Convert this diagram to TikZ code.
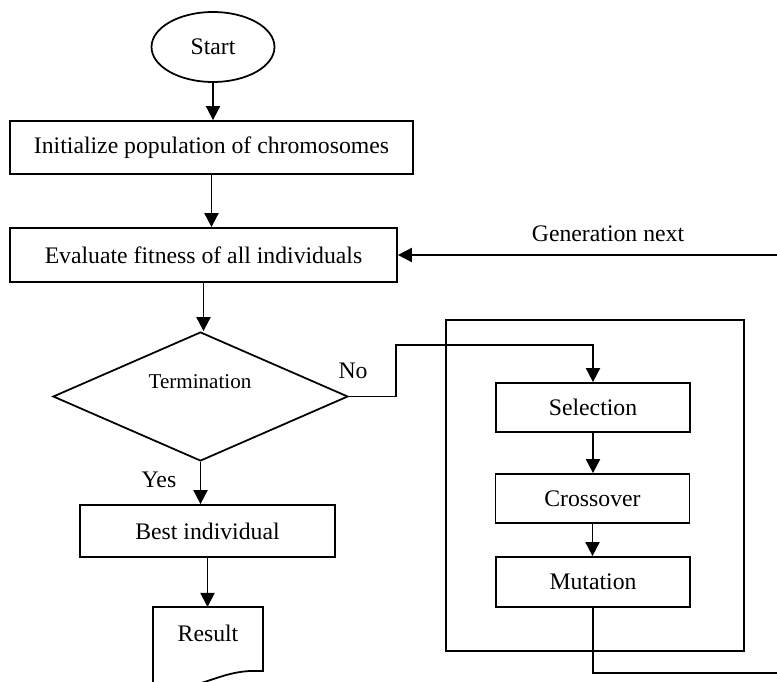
\documentclass[tikz,border=0pt]{standalone}
\usepackage{fontspec}
\setmainfont{Liberation Serif}
\usetikzlibrary{shapes.geometric, arrows.meta}

\begin{document}
\begin{tikzpicture}[x=.02cm, y=-.02cm, line width=1pt,
    lbl/.style={font=\fontsize{13.5}{16}\selectfont},
    box/.style={draw, rectangle, inner sep=0pt, lbl},
    arr/.style={-{Triangle[length=8pt, width=8pt]}}]
  \clip (0, 0) rectangle (777, 682);
  % node
  \node[draw, ellipse, minimum width=2.46cm, minimum height=1.4cm, inner sep=0pt, lbl] (start) at (213, 47) {Start};
  \node[box, minimum width=8.06cm, minimum height=1.06cm] (init) at (211.5, 147.5) {Initialize population of chromosomes};
  \node[box, minimum width=7.74cm, minimum height=1.08cm] (eval) at (203.5, 255) {Evaluate fitness of all individuals};
  \node[draw, diamond, minimum width=5.9cm, minimum height=2.58cm, inner sep=0pt] (term) at (200.5, 396.5) {};
  \node[font=\fontsize{12}{14}\selectfont] (termtxt) at (200, 382) {Termination};
  \node[box, minimum width=5.1cm, minimum height=1.04cm] (best) at (207.5, 531) {Best individual};
  \node[lbl] (result) at (208, 633) {Result};
  \coordinate (doc) at (208, 607);
  % loop
  \node[draw, rectangle, minimum width=5.96cm, minimum height=6.62cm] (loop) at (595, 485.5) {};
  \node[box, minimum width=3.88cm, minimum height=.98cm] (sel) at (593, 407.5) {Selection};
  \node[box, minimum width=3.88cm, minimum height=.98cm] (cross) at (592.5, 498.5) {Crossover};
  \node[box, minimum width=3.88cm, minimum height=1cm] (mut) at (593, 582) {Mutation};
  % document shape
  \draw (153, 690) -- (153, 607) -- (263, 607) -- (263, 671) -- (250, 671)
    .. controls (230, 672) and (215, 679) .. (198, 684)
    .. controls (180, 690) and (165, 691) .. (153, 690);
  % labels
  \node[lbl] (gentxt) at (608, 234) {Generation next};
  \node[lbl] (no) at (353, 371) {No};
  \node[lbl] (yes) at (159, 480) {Yes};
  \coordinate (gen) at (777, 255);
  \coordinate (hop) at (396, 345);
  \coordinate (out) at (777, 673);
  % lines
  \draw[arr] (start.south) -- (start.south |- init.north);
  \draw[arr] (init.south) -- (init.south |- eval.north);
  \draw[arr] (eval.south) -- (eval.south |- term.north);
  \draw[arr] (gen) -- (eval.east);
  \draw[arr] (term.east) -| (hop) -| (sel.north);
  \draw[arr] (sel.south) -- (sel.south |- cross.north);
  \draw[arr] (cross.south) -- (cross.south |- mut.north);
  \draw (mut.south) |- (out);
  \draw[arr] (term.south) -- (term.south |- best.north);
  \draw[arr] (best.south) -- (best.south |- doc);
\end{tikzpicture}
\end{document}
